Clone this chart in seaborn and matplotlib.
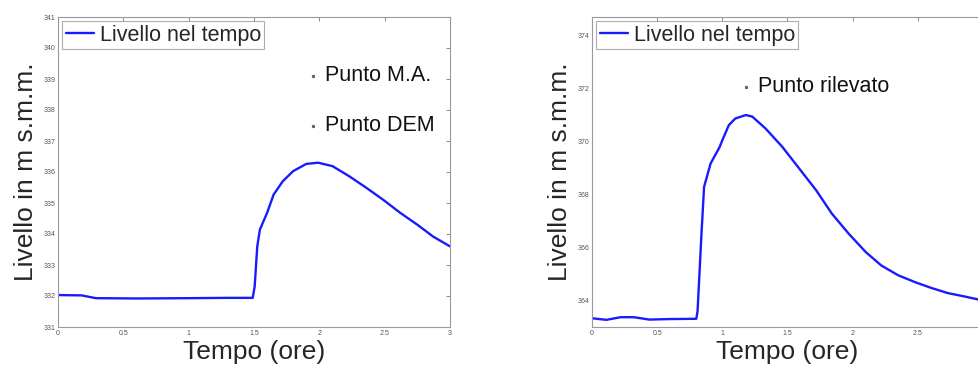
import numpy as np
import pandas as pd
import matplotlib
matplotlib.use("Agg")
import matplotlib.pyplot as plt
import seaborn as sns

# ---- data ----
t_left = [0.0, 0.18, 0.29, 0.6, 1.0, 1.3, 1.49, 1.505, 1.525, 1.545, 1.6, 1.65, 1.72, 1.8, 1.9,
          1.99, 2.1, 2.23, 2.36, 2.49, 2.62, 2.75, 2.87, 3.0]
h_left = [332.03, 332.02, 331.93, 331.92, 331.93, 331.94, 331.94, 332.3, 333.6, 334.14, 334.68,
          335.27, 335.7, 336.03, 336.26, 336.3, 336.19, 335.86, 335.49, 335.1, 334.68, 334.3,
          333.92, 333.6]

t_right = [0.0, 0.11, 0.22, 0.32, 0.44, 0.6, 0.8, 0.81, 0.84, 0.86, 0.91, 0.98, 1.0, 1.05, 1.1,
           1.18, 1.23, 1.33, 1.46, 1.59, 1.72, 1.84, 1.97, 2.1, 2.22, 2.35, 2.48, 2.6, 2.73,
           2.86, 3.0]
h_right = [363.33, 363.27, 363.37, 363.37, 363.28, 363.3, 363.31, 363.6, 366.52, 368.29, 369.17,
           369.8, 370.05, 370.62, 370.87, 371.0, 370.94, 370.5, 369.8, 368.98, 368.16, 367.28,
           366.52, 365.83, 365.32, 364.95, 364.69, 364.48, 364.28, 364.15, 364.0]

left_points = ["Punto M.A.", "Punto DEM"]
left_points_x = [1.95, 1.95]
left_points_y = [339.1, 337.5]
right_points = ["Punto rilevato"]
right_points_x = [1.18]
right_points_y = [372.07]

left_xticks = [0, 0.5, 1, 1.5, 2, 2.5, 3]
left_xticklabels = ["0", "0.5", "1", "1.5", "2", "2.5", "3"]
left_yticks = [331, 332, 333, 334, 335, 336, 337, 338, 339, 340, 341]
right_xticks = [0, 0.5, 1, 1.5, 2, 2.5]
right_xticklabels = ["0", "0.5", "1", "1.5", "2", "2.5"]
right_yticks = [364, 366, 368, 370, 372, 374]

series_label = "Livello nel tempo"
xlabel = "Tempo (ore)"
ylabel = "Livello in m s.m.m."

sns.set_style("white")
plt.rcParams["font.family"] = ["Liberation Sans", "DejaVu Sans"]

fig = plt.figure(figsize=(9.79, 3.67), dpi=100)
ax1 = fig.add_axes([58 / 979, 1 - 327 / 367, (450 - 58) / 979, (327 - 17) / 367])
ax2 = fig.add_axes([592 / 979, 1 - 327 / 367, (983 - 592) / 979, (327 - 17) / 367])

df_l = pd.DataFrame({"t": t_left, "h": h_left})
df_r = pd.DataFrame({"t": t_right, "h": h_right})

line_color = "#1a1aff"
sns.lineplot(data=df_l, x="t", y="h", ax=ax1, color=line_color, lw=1.7, label=series_label)
sns.lineplot(data=df_r, x="t", y="h", ax=ax2, color=line_color, lw=1.7, label=series_label)

def style(ax, xt, xtl, yt, ylim, pts, px, py):
    ax.set_xlim(0, 3)
    ax.set_ylim(*ylim)
    ax.set_xticks(xt)
    ax.set_xticklabels(xtl)
    ax.set_yticks(yt)
    ax.set_yticklabels([str(v) for v in yt])
    ax.tick_params(direction="in", length=3, width=0.6, color="#777777", labelsize=5,
                   labelcolor="#555555", top=True, right=True, pad=2)
    for s in ax.spines.values():
        s.set_color("#999999")
        s.set_linewidth(0.8)
    ax.set_xlabel(xlabel, fontsize=19, labelpad=2)
    ax.set_ylabel(ylabel, fontsize=19, labelpad=4)
    for name, x, y in zip(pts, px, py):
        ax.plot([x], [y], marker="s", ms=1.3, color="#666666", ls="none")
        ax.text(x + 0.09, y, name, fontsize=15.5, va="center", ha="left", color="#111111")
    leg = ax.legend(loc="upper left", fontsize=15.5, frameon=True, fancybox=False,
                    borderaxespad=0.2, handlelength=1.3, handletextpad=0.3, borderpad=0.15)
    leg.get_frame().set_edgecolor("#999999")
    leg.get_frame().set_linewidth(0.8)

style(ax1, left_xticks, left_xticklabels, left_yticks, (331, 341),
      left_points, left_points_x, left_points_y)
style(ax2, right_xticks, right_xticklabels, right_yticks, (363.0, 374.7),
      right_points, right_points_x, right_points_y)

fig.savefig("out.png", dpi=100)
